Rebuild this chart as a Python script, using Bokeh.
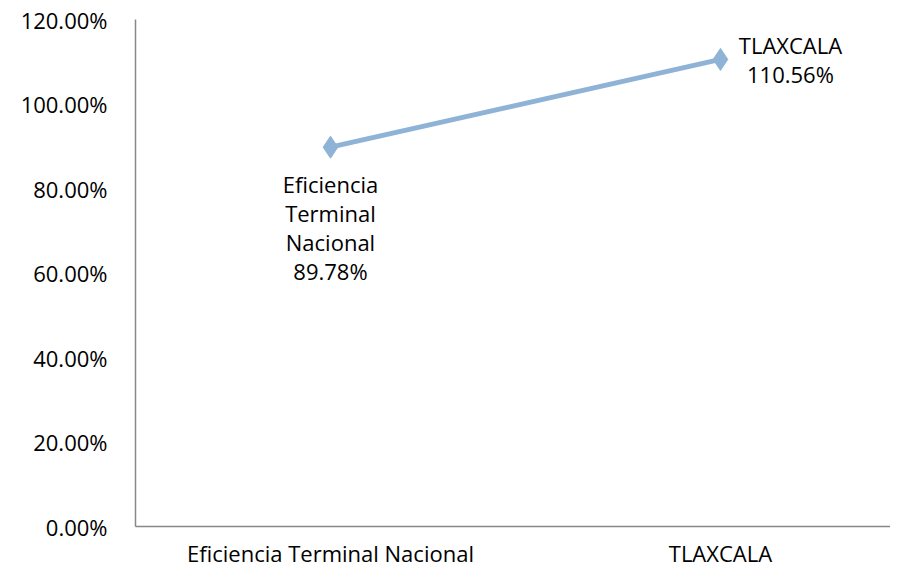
from bokeh.plotting import figure
from bokeh.models import ColumnDataSource, NumeralTickFormatter, Range1d
from bokeh.core.properties import value
from bokeh.embed import file_html
from bokeh.resources import INLINE

categories = ["Eficiencia Terminal Nacional", "TLAXCALA"]
values = [0.8978, 1.1056]
labels = ["Eficiencia\nTerminal\nNacional\n89.78%", "TLAXCALA\n110.56%"]

FONT = "Open Sans"
LINE_COLOR = "#8FB3D6"

xs = list(range(len(categories)))

p = figure(width=890, height=570, x_range=Range1d(-0.5, 1.436),
           y_range=Range1d(0, 1.2), output_backend="svg", toolbar_location=None,
           min_border_left=135, min_border_right=0, min_border_top=19, min_border_bottom=30)
p.outline_line_color = None
p.xgrid.grid_line_color = None
p.ygrid.grid_line_color = None

src = ColumnDataSource(dict(x=xs, y=values))
p.line("x", "y", source=src, line_color=LINE_COLOR, line_width=5)
p.scatter("x", "y", source=src, marker="diamond", size=22, fill_color=LINE_COLOR, line_color=LINE_COLOR)

src1 = ColumnDataSource(dict(x=[xs[0]], y=[values[0]], t=[labels[0]]))
p.text("x", "y", text="t", source=src1, text_align="center", text_baseline="top",
       y_offset=22, text_font=value(FONT), text_font_size="22px", text_color="black",
       text_line_height=0.97)
src2 = ColumnDataSource(dict(x=[xs[1]], y=[values[1]], t=[labels[1]]))
p.text("x", "y", text="t", source=src2, text_align="center", text_baseline="middle",
       x_offset=70, y_offset=0, text_font=value(FONT), text_font_size="22px", text_color="black",
       text_line_height=0.97)

p.xaxis.ticker = xs
p.xaxis.major_label_overrides = {i: c for i, c in zip(xs, categories)}
p.yaxis.ticker = [0, 0.2, 0.4, 0.6, 0.8, 1.0, 1.2]
p.yaxis.formatter = NumeralTickFormatter(format="0.00%")
for ax in (p.xaxis, p.yaxis):
    ax.axis_line_color = "#888888"
    ax.axis_line_width = 1.5
    ax.major_tick_line_color = None
    ax.minor_tick_line_color = None
    ax.major_label_text_font = FONT
    ax.major_label_text_font_size = "22px"
    ax.major_label_text_color = "black"
p.yaxis.major_label_standoff = 22
p.xaxis.major_label_standoff = 5

open("out.html", "w").write(file_html(p, INLINE))
